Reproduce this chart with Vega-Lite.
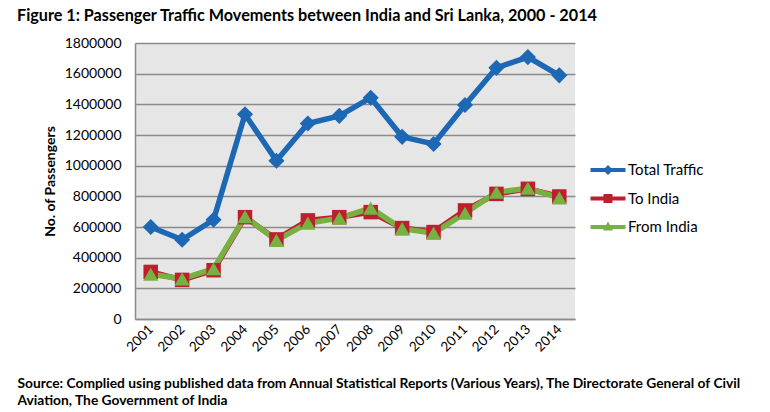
{
  "$schema": "https://vega.github.io/schema/vega-lite/v6.json",
  "width": 440,
  "height": 276,
  "autosize": {"type": "none"},
  "padding": {"left": 135, "top": 43, "right": 195, "bottom": 93},
  "background": "white",
  "title": {
    "text": "Figure 1: Passenger Traffic Movements between India and Sri Lanka, 2000 - 2014",
    "anchor": "start", "frame": "group", "dx": -118, "offset": 12,
    "font": "Lato", "fontSize": 16.2, "fontWeight": "bold", "color": "black"
  },
  "data": {"values": [
    {"year": "2001", "series": "Total Traffic", "value": 600000},
    {"year": "2002", "series": "Total Traffic", "value": 517000},
    {"year": "2003", "series": "Total Traffic", "value": 647000},
    {"year": "2004", "series": "Total Traffic", "value": 1335000},
    {"year": "2005", "series": "Total Traffic", "value": 1032000},
    {"year": "2006", "series": "Total Traffic", "value": 1275000},
    {"year": "2007", "series": "Total Traffic", "value": 1325000},
    {"year": "2008", "series": "Total Traffic", "value": 1443000},
    {"year": "2009", "series": "Total Traffic", "value": 1188000},
    {"year": "2010", "series": "Total Traffic", "value": 1141000},
    {"year": "2011", "series": "Total Traffic", "value": 1396000},
    {"year": "2012", "series": "Total Traffic", "value": 1638000},
    {"year": "2013", "series": "Total Traffic", "value": 1708000},
    {"year": "2014", "series": "Total Traffic", "value": 1589000},
    {"year": "2001", "series": "To India", "value": 307000},
    {"year": "2002", "series": "To India", "value": 255000},
    {"year": "2003", "series": "To India", "value": 318000},
    {"year": "2004", "series": "To India", "value": 664000},
    {"year": "2005", "series": "To India", "value": 519000},
    {"year": "2006", "series": "To India", "value": 643000},
    {"year": "2007", "series": "To India", "value": 664000},
    {"year": "2008", "series": "To India", "value": 697000},
    {"year": "2009", "series": "To India", "value": 593000},
    {"year": "2010", "series": "To India", "value": 567000},
    {"year": "2011", "series": "To India", "value": 708000},
    {"year": "2012", "series": "To India", "value": 816000},
    {"year": "2013", "series": "To India", "value": 849000},
    {"year": "2014", "series": "To India", "value": 799000},
    {"year": "2001", "series": "From India", "value": 292000},
    {"year": "2002", "series": "From India", "value": 262000},
    {"year": "2003", "series": "From India", "value": 328000},
    {"year": "2004", "series": "From India", "value": 668000},
    {"year": "2005", "series": "From India", "value": 513000},
    {"year": "2006", "series": "From India", "value": 625000},
    {"year": "2007", "series": "From India", "value": 658000},
    {"year": "2008", "series": "From India", "value": 723000},
    {"year": "2009", "series": "From India", "value": 589000},
    {"year": "2010", "series": "From India", "value": 560000},
    {"year": "2011", "series": "From India", "value": 690000},
    {"year": "2012", "series": "From India", "value": 827000},
    {"year": "2013", "series": "From India", "value": 853000},
    {"year": "2014", "series": "From India", "value": 790000}
  ]},
  "encoding": {
    "x": {
      "field": "year", "type": "ordinal",
      "scale": {"type": "point", "padding": 0.5},
      "axis": {
        "labelAngle": -45, "labelAlign": "right", "labelBaseline": "middle",
        "labelFont": "Lato", "labelFontSize": 13.5, "labelColor": "black", "labelPadding": 8,
        "ticks": false, "domain": true, "domainColor": "#8a8a8a", "domainWidth": 1.5, "grid": false,
        "title": ["Source: Complied using published data from Annual Statistical Reports (Various Years), The Directorate General of Civil", "Aviation, The Government of India"],
        "titleX": -118, "titleY": 57, "titleAlign": "left", "titleBaseline": "top", "titleAnchor": "start",
        "titleFont": "Lato", "titleFontSize": 13.8, "titleFontWeight": "bold", "titleColor": "black", "titleLineHeight": 17
      }
    },
    "y": {
      "field": "value", "type": "quantitative",
      "scale": {"domain": [0, 1800000], "nice": false},
      "axis": {
        "values": [0, 200000, 400000, 600000, 800000, 1000000, 1200000, 1400000, 1600000, 1800000],
        "format": "d", "labelFont": "Lato", "labelFontSize": 14, "labelColor": "black", "labelPadding": 14,
        "ticks": false, "domain": true, "domainColor": "#8a8a8a", "domainWidth": 1.5,
        "grid": true, "gridColor": "#8a8a8a", "gridWidth": 1.5,
        "title": "No. of Passengers", "titleX": -85, "titleY": 138, "titleAngle": -90,
        "titleAlign": "center", "titleBaseline": "middle",
        "titleFont": "Lato", "titleFontSize": 14, "titleFontWeight": "bold", "titleColor": "black"
      }
    }
  },
  "layer": [
    {
      "mark": {"type": "line", "strokeWidth": 5.5},
      "encoding": {
        "color": {
          "field": "series", "type": "nominal",
          "sort": ["Total Traffic", "To India", "From India"],
          "scale": {"domain": ["Total Traffic", "To India", "From India"], "range": ["#1c68b4", "#be1e2d", "#77b142"]},
          "legend": {
            "orient": "none", "legendX": 463, "legendY": 117, "title": null,
            "labelFont": "Lato", "labelFontSize": 15, "labelColor": "black", "labelOffset": 10,
            "symbolSize": 400, "rowPadding": 10.5,
            "encode": {
              "symbols": {
                "update": {
                  "shape": {"signal": "datum.value === 'Total Traffic' ? 'M-1.75,-0.2L-0.3,-0.2L0,-0.5L0.3,-0.2L1.75,-0.2L1.75,0.2L0.3,0.2L0,0.5L-0.3,0.2L-1.75,0.2Z' : datum.value === 'To India' ? 'M-1.75,-0.2L-0.45,-0.2L-0.45,-0.45L0.45,-0.45L0.45,-0.2L1.75,-0.2L1.75,0.2L0.45,0.2L0.45,0.45L-0.45,0.45L-0.45,0.2L-1.75,0.2Z' : 'M-1.75,-0.2L-0.19,-0.2L0,-0.55L0.19,-0.2L1.75,-0.2L1.75,0.2L0.42,0.2L0.5,0.35L-0.5,0.35L-0.42,0.2L-1.75,0.2Z'"},
                  "fill": {"signal": "scale('color', datum.value)"},
                  "strokeWidth": {"value": 0},
                  "opacity": {"value": 1}
                }
              }
            }
          }
        }
      }
    },
    {
      "transform": [{"filter": "datum.series === 'Total Traffic'"}],
      "mark": {"type": "point", "shape": "diamond", "filled": true, "opacity": 1, "size": 260, "color": "#1c68b4"}
    },
    {
      "transform": [{"filter": "datum.series === 'To India'"}],
      "mark": {"type": "point", "shape": "square", "filled": true, "opacity": 1, "size": 210, "color": "#be1e2d"}
    },
    {
      "transform": [{"filter": "datum.series === 'From India'"}],
      "mark": {"type": "point", "shape": "triangle-up", "filled": true, "opacity": 1, "size": 230, "color": "#77b142"}
    }
  ],
  "config": {"font": "Lato", "view": {"fill": "#e6e6e6", "stroke": null}}
}
